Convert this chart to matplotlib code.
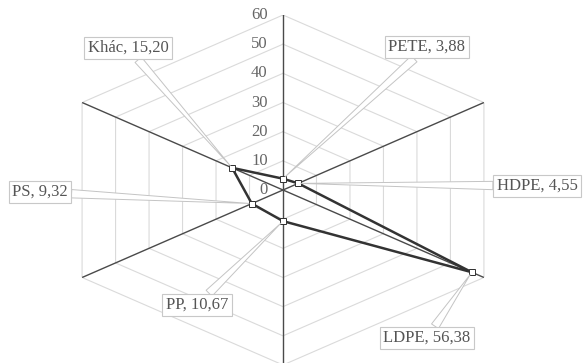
import matplotlib.pyplot as plt
import numpy as np

categories = ["PETE", "HDPE", "LDPE", "PP", "PS", "Khác"]
values = [3.88, 4.55, 56.38, 10.67, 9.32, 15.20]
labels = ["PETE, 3,88", "HDPE, 4,55", "LDPE, 56,38", "PP, 10,67", "PS, 9,32", "Khác, 15,20"]
r_ticks = [0, 10, 20, 30, 40, 50, 60]

plt.rcParams['font.family'] = ['Liberation Serif', 'DejaVu Serif']

W, H = 583, 363
fig = plt.figure(figsize=(W / 100, H / 100), dpi=100)
# stretched polar axes: the scan is wider than tall
ax = fig.add_axes([51 / W, -2 / H, 464 / W, 350 / H], projection='polar')
ax.set_aspect('auto')
ax.set_theta_zero_location('N')
ax.set_theta_direction(-1)
ax.set_ylim(0, 60)
ax.grid(False)
ax.set_xticks([])
ax.set_yticks([])
ax.spines['polar'].set_visible(False)

n = len(categories)
theta = np.arange(n) * 2 * np.pi / n
theta_c = np.append(theta, theta[0])

# hexagonal gridlines
for r in r_ticks[1:]:
    ax.plot(theta_c, [r] * (n + 1), color='#dadada', lw=0.8, zorder=1)
# spokes
for t in theta:
    ax.plot([t, t], [0, 60], color='#4a4a4a', lw=1.0, zorder=2)

# radial tick labels
for r in r_ticks:
    ax.annotate(str(r), (0, r), xytext=(-11, 0), textcoords='offset points',
                ha='right', va='center', fontsize=12, color='#666666')

# data
vals_c = values + [values[0]]
ax.plot(theta_c, vals_c, color='#333333', lw=1.8, zorder=4)
ax.plot(theta, values, 's', ms=4.5, mfc='white', mec='#333333', mew=0.7, zorder=5)

# callout positions (figure pixels, from top)
label_pos = [(427, 47), (537, 186), (427, 338), (197, 305), (40, 192), (128, 48)]
for t, v, lab, (px, py) in zip(theta, values, labels, label_pos):
    ax.annotate(lab, (t, v), xytext=(px / W, 1 - py / H), textcoords='figure fraction',
                ha='center', va='center', fontsize=12, color='#555555',
                bbox=dict(boxstyle='square,pad=0.2', fc='white', ec='#c8c8c8', lw=0.8),
                arrowprops=dict(arrowstyle='wedge,tail_width=0.5', fc='white',
                                ec='#c4c4c4', lw=0.7, shrinkA=0, shrinkB=2),
                zorder=6)

fig.savefig('out.png', dpi=100)
